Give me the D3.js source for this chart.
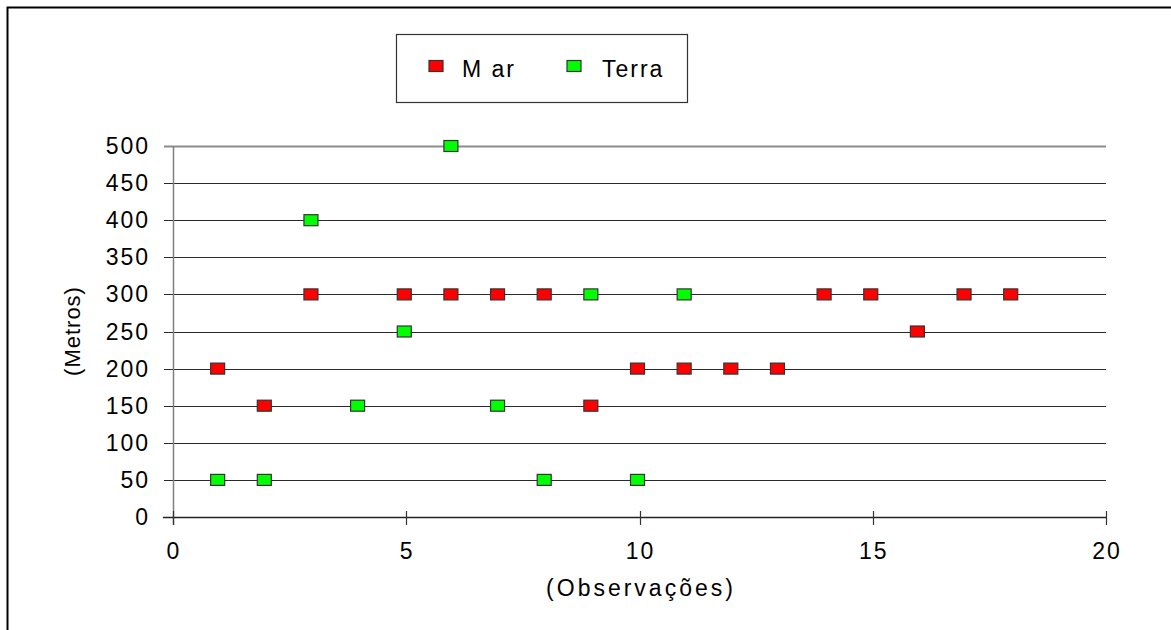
<!DOCTYPE html>
<html>
<head>
<meta charset="utf-8">
<script src="https://cdn.jsdelivr.net/npm/d3@7"></script>
<style>
  body { margin: 0; background: #fff; }
  svg text { font-family: "Liberation Sans", Arial, sans-serif; fill: #000; }
</style>
</head>
<body>
<div class="graphics"></div>
<script>
// dados
var marX = [1, 2, 3, 5, 6, 7, 8, 9, 10, 11, 12, 13, 14, 15, 16, 17, 18]
var marY = [200, 150, 300, 300, 300, 300, 300, 150, 200, 200, 200, 200, 300, 300, 250, 300, 300]
var terraX = [1, 2, 3, 4, 5, 6, 7, 8, 9, 10, 11]
var terraY = [50, 50, 400, 150, 250, 500, 150, 50, 300, 50, 300]
var xTicks = [0, 5, 10, 15, 20]
var yTicks = [0, 50, 100, 150, 200, 250, 300, 350, 400, 450, 500]
var seriesNames = ["M ar", "Terra"]
var seriesColors = ["#ff0000", "#00ff00"]

var W = 1171, H = 630
var svg = d3.select(".graphics").append("svg")
    .attr("width", W).attr("height", H)

// moldura (so esquerda e topo aparecem)
svg.append("path")
    .attr("d", "M7.5,630 L7.5,7.5 L1171,7.5")
    .attr("fill", "none").attr("stroke", "#000").attr("stroke-width", 2)

var x = d3.scaleLinear().domain([0, 20]).range([173, 1106])
var y = d3.scaleLinear().domain([0, 500]).range([517, 146])

// linhas de grade horizontais
svg.selectAll(".grid")
    .data(yTicks)
    .enter()
    .append("line")
    .attr("x1", 164).attr("x2", x(20))
    .attr("y1", function(d){ return Math.round(y(d)) + 0.5 })
    .attr("y2", function(d){ return Math.round(y(d)) + 0.5 })
    .attr("stroke", function(d){ return d == 500 ? "#8c8c8c" : "#2a2a2a" })
    .attr("stroke-width", function(d){ return d == 500 ? 2 : 1.2 })

// eixo y (linha cinza)
svg.append("line")
    .attr("x1", 173.5).attr("x2", 173.5)
    .attr("y1", y(500)).attr("y2", 525)
    .attr("stroke", "#808080").attr("stroke-width", 1.5)

// eixo x
svg.append("line")
    .attr("x1", 163).attr("x2", x(20))
    .attr("y1", 517.5).attr("y2", 517.5)
    .attr("stroke", "#222").attr("stroke-width", 1.5)

svg.selectAll(".xtick")
    .data(xTicks)
    .enter()
    .append("line")
    .attr("x1", function(d){ return Math.round(x(d)) + 0.5 })
    .attr("x2", function(d){ return Math.round(x(d)) + 0.5 })
    .attr("y1", 511).attr("y2", 525)
    .attr("stroke", "#333").attr("stroke-width", 1.2)

// rotulos
svg.selectAll(".ylab")
    .data(yTicks)
    .enter()
    .append("text")
    .attr("x", 150)
    .attr("y", function(d){ return y(d) + 8 })
    .attr("text-anchor", "end")
    .attr("font-size", 23)
    .attr("letter-spacing", 2)
    .text(function(d){ return d })

svg.selectAll(".xlab")
    .data(xTicks)
    .enter()
    .append("text")
    .attr("x", function(d){ return x(d) + 1 })
    .attr("y", 559)
    .attr("text-anchor", "middle")
    .attr("font-size", 23)
    .attr("letter-spacing", 2)
    .text(function(d){ return d })

svg.append("text")
    .attr("x", 641).attr("y", 596)
    .attr("text-anchor", "middle")
    .attr("font-size", 23)
    .attr("letter-spacing", 3)
    .text("(Observações)")

svg.append("text")
    .attr("transform", "translate(80,331) rotate(-90)")
    .attr("text-anchor", "middle")
    .attr("font-size", 22)
    .attr("letter-spacing", 1)
    .text("(Metros)")

// pontos (levemente deslocados para a esquerda como no original)
var mW = 14, mH = 11, dx = -2
function drawSeries(xs, ys, color){
    var pts = xs.map(function(d, i){ return {x: d, y: ys[i]} })
    svg.append("g").selectAll("rect")
        .data(pts)
        .enter()
        .append("rect")
        .attr("x", function(d){ return x(d.x) - mW / 2 + dx })
        .attr("y", function(d){ return y(d.y) - mH / 2 })
        .attr("width", mW).attr("height", mH)
        .attr("fill", color)
        .attr("stroke", "#333").attr("stroke-width", 1.2)
}
drawSeries(marX, marY, seriesColors[0])
drawSeries(terraX, terraY, seriesColors[1])

// legenda
var leg = svg.append("g")
leg.append("rect")
    .attr("x", 396.5).attr("y", 34.5)
    .attr("width", 291).attr("height", 68)
    .attr("fill", "#fff").attr("stroke", "#333").attr("stroke-width", 1.2)

var legX = [429, 567], legTx = [462, 602]
seriesNames.forEach(function(name, i){
    leg.append("rect")
        .attr("x", legX[i]).attr("y", 60.5)
        .attr("width", mW).attr("height", mH)
        .attr("fill", seriesColors[i])
        .attr("stroke", "#333").attr("stroke-width", 1.2)
    leg.append("text")
        .attr("x", legTx[i]).attr("y", 77)
        .attr("font-size", 23)
        .attr("letter-spacing", 2)
        .text(name)
})
</script>
</body>
</html>
